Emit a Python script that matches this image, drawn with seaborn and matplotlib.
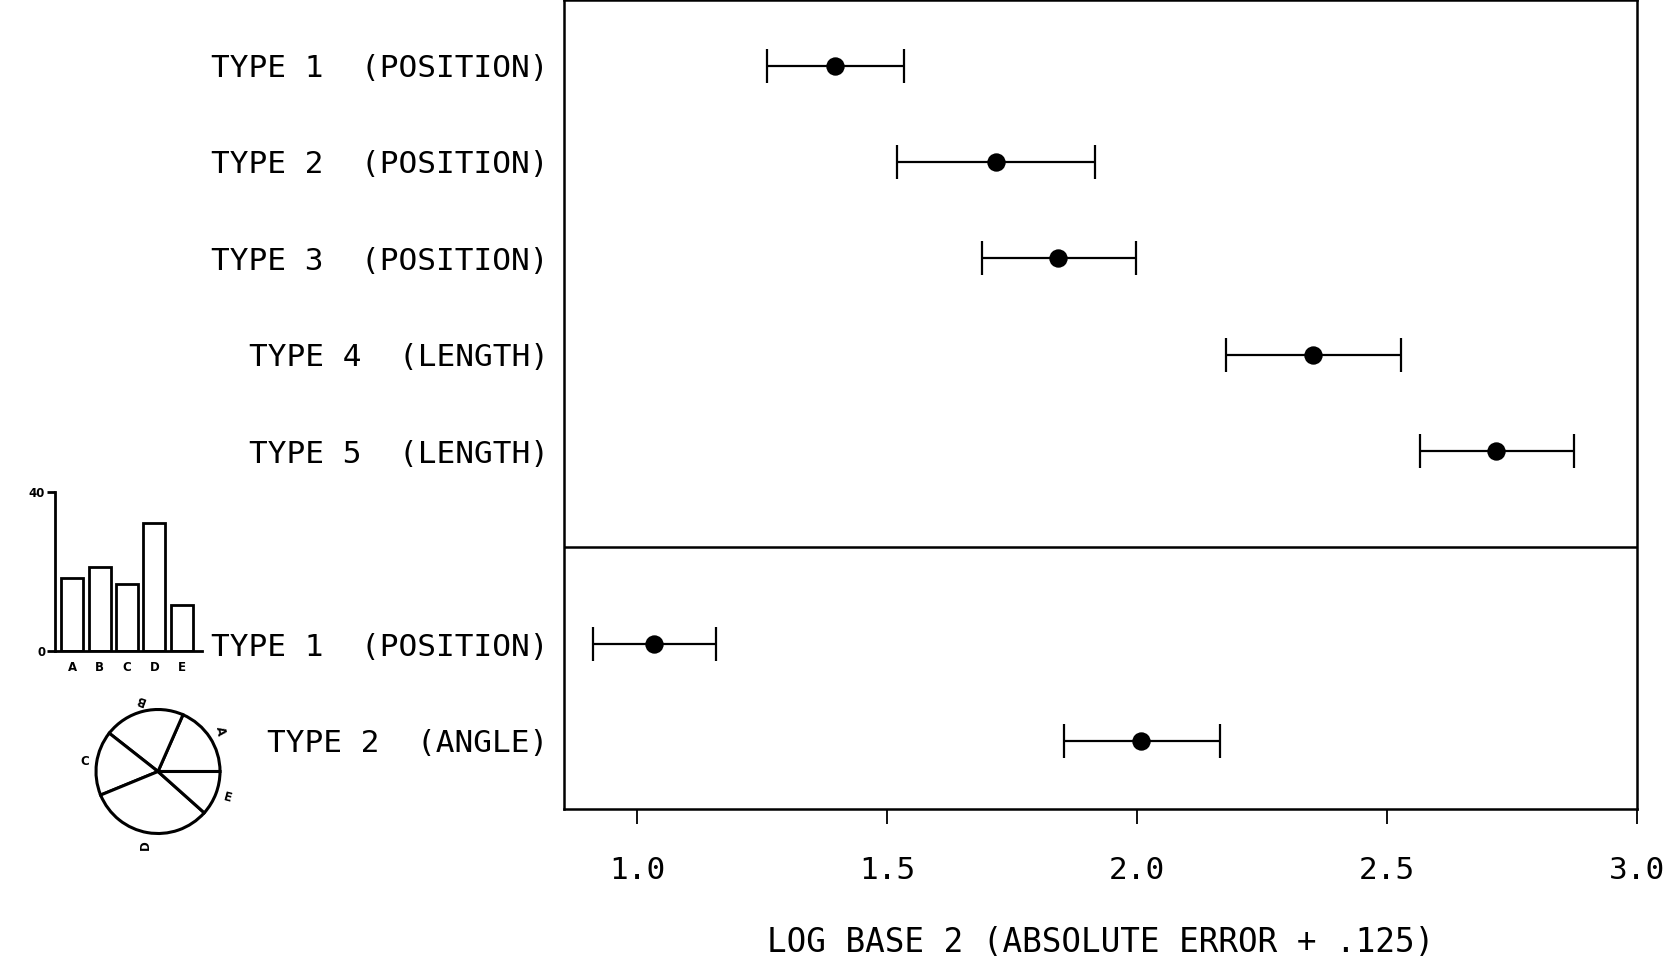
import matplotlib
matplotlib.use("Agg")
import numpy as np
import pandas as pd
import matplotlib.pyplot as plt
import seaborn as sns

# DATA:
labels = ["TYPE 1  (POSITION)", "TYPE 2  (POSITION)", "TYPE 3  (POSITION)",
          "TYPE 4  (LENGTH)", "TYPE 5  (LENGTH)",
          "TYPE 1  (POSITION)", "TYPE 2  (ANGLE)"]
group = ["bar", "bar", "bar", "bar", "bar", "pie", "pie"]
means = [1.395, 1.717, 1.841, 2.351, 2.718, 1.034, 2.007]
lower = [1.260, 1.519, 1.689, 2.178, 2.565, 0.912, 1.854]
upper = [1.534, 1.916, 1.997, 2.528, 2.874, 1.158, 2.165]

letters = ["A", "B", "C", "D", "E"]
shares = [18.4, 21.0, 16.8, 32.2, 11.6]

xticks = [1.0, 1.5, 2.0, 2.5, 3.0]
xlabel = "LOG BASE 2 (ABSOLUTE ERROR + .125)"

sns.set_style("white")
plt.rcParams["font.family"] = ["DejaVu Sans Mono"]
plt.rcParams["text.color"] = "black"
plt.rcParams["xtick.color"] = "black"
plt.rcParams["ytick.color"] = "black"
plt.rcParams["axes.labelcolor"] = "black"

W, H = 1665, 967
fig = plt.figure(figsize=(W / 100, H / 100), dpi=100)

# one row per label, one empty slot between the two groups
df = pd.DataFrame({"label": labels, "group": group, "mean": means,
                   "lo": lower, "hi": upper})
df["y"] = np.arange(len(df)) + (df["group"] == "pie").astype(int)

# MAIN PANEL:
ax = fig.add_axes([564 / W, 1 - 809 / H, (1637 - 564) / W, 809 / H])
ax.errorbar(df["mean"], df["y"], xerr=[df["mean"] - df["lo"], df["hi"] - df["mean"]],
            fmt="none", ecolor="black", elinewidth=1.6, capsize=12, capthick=1.6)
sns.scatterplot(data=df, x="mean", y="y", color="black", s=175, linewidth=0,
                ax=ax, zorder=3, legend=False)
ax.axhline(4.99, color="black", lw=1.8)
ax.set_xlim(0.853, 3.0)
ax.set_ylim(7.71, -0.68)
ax.set_yticks(df["y"])
ax.set_yticklabels(df["label"])
ax.set_xticks(xticks)
ax.set_xticklabels([f"{t:.1f}" for t in xticks])
ax.tick_params(axis="y", length=0, pad=11, labelsize=22.4)
ax.tick_params(axis="x", direction="out", length=11, width=1.3, pad=23,
               labelsize=22.4, bottom=True)
ax.set_ylabel("")
ax.set_xlabel(xlabel, fontsize=23.5, labelpad=29)
for s in ax.spines.values():
    s.set_linewidth(1.8)
    s.set_color("black")

# SMALL BAR CHART:
bx = fig.add_axes([55 / W, 1 - 651 / H, 147 / W, 159.3 / H])
sns.barplot(x=letters, y=shares, color="white", edgecolor="black", linewidth=2,
            width=0.8, saturation=1, ax=bx)
bx.set_xlim(-0.62, 4.73)
bx.set_ylim(0, 40)
bx.set_yticks([0, 40])
bx.set_yticklabels(["0", "40"], fontsize=8.5, fontweight="bold", family="DejaVu Sans")
bx.set_xticklabels(letters, fontsize=8.5, fontweight="bold", family="DejaVu Sans")
bx.tick_params(axis="y", direction="out", length=6, width=2, pad=1, left=True)
bx.tick_params(axis="x", length=0, pad=7)
bx.spines["top"].set_visible(False)
bx.spines["right"].set_visible(False)
for s in ["left", "bottom"]:
    bx.spines[s].set_linewidth(2)
    bx.spines[s].set_color("black")
bx.set_facecolor("none")

# SMALL PIE CHART:
px = fig.add_axes([(158 - 78) / W, 1 - (771.5 + 78) / H, 156 / W, 156 / H])
px.pie(shares, startangle=0, counterclock=True, colors=["white"] * len(shares),
       wedgeprops=dict(edgecolor="black", linewidth=2.2))
px.set_xlim(-1.258, 1.258)
px.set_ylim(-1.258, 1.258)
px.set_aspect("equal")
edges = np.cumsum([0] + shares) * 3.6
mids = np.deg2rad((edges[:-1] + edges[1:]) / 2)
rots = [-80, 160, 0, 90, -15]
for lab, m, r in zip(letters, mids, rots):
    px.text(1.2 * np.cos(m), 1.2 * np.sin(m), lab, rotation=r, ha="center",
            va="center", fontsize=8.5, fontweight="bold", family="DejaVu Sans")

fig.savefig("out.png", dpi=100, facecolor="white")
